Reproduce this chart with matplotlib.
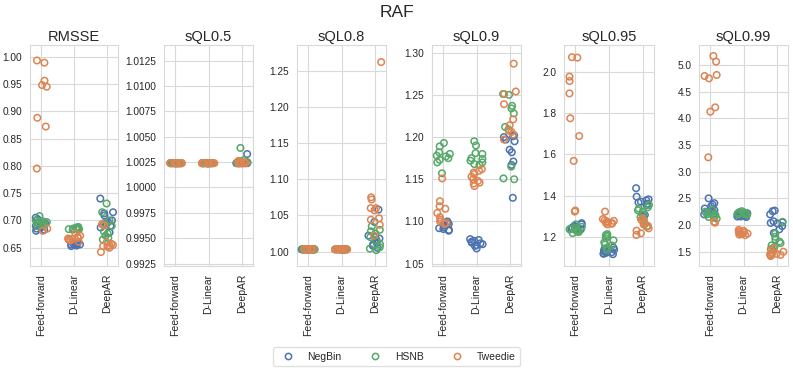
import numpy as np
import matplotlib
matplotlib.use("Agg")
import matplotlib.pyplot as plt
import seaborn as sns
from matplotlib.lines import Line2D
from matplotlib.ticker import MultipleLocator, FormatStrFormatter

sns.set_style("whitegrid")
plt.rcParams['font.family'] = ['Liberation Sans', 'DejaVu Sans']

models = ["Feed-forward", "D-Linear", "DeepAR"]
series = ["NegBin", "HSNB", "Tweedie"]
metrics = ["RMSSE", "sQL0.5", "sQL0.8", "sQL0.9", "sQL0.95", "sQL0.99"]

# values per metric and series: one list per model (Feed-forward, D-Linear, DeepAR)
rmsse_negbin = [[0.705, 0.702, 0.695, 0.692, 0.690, 0.688, 0.687, 0.685, 0.683, 0.681],
                [0.660, 0.659, 0.658, 0.657, 0.657, 0.656, 0.656, 0.655, 0.654, 0.653],
                [0.740, 0.715, 0.713, 0.709, 0.700, 0.697, 0.694, 0.690, 0.687, 0.678]]
rmsse_hsnb = [[0.708, 0.700, 0.698, 0.697, 0.696, 0.695, 0.694, 0.693, 0.692, 0.690],
              [0.688, 0.687, 0.686, 0.686, 0.685, 0.685, 0.684, 0.684, 0.683, 0.683],
              [0.731, 0.715, 0.700, 0.695, 0.690, 0.680, 0.676, 0.672, 0.668, 0.665]]
rmsse_tweedie = [[0.993, 0.989, 0.956, 0.948, 0.945, 0.888, 0.872, 0.795, 0.685, 0.681],
                 [0.676, 0.672, 0.670, 0.668, 0.667, 0.666, 0.665, 0.664, 0.663, 0.661],
                 [0.693, 0.691, 0.660, 0.657, 0.655, 0.654, 0.653, 0.652, 0.650, 0.642]]

sql05_negbin = [[1.0024] * 10,
                [1.0024] * 10,
                [1.0033, 1.0025, 1.0025, 1.0024, 1.0024, 1.0024, 1.0024, 1.0024, 1.0024, 1.0024]]
sql05_hsnb = [[1.0024] * 10,
              [1.0024] * 10,
              [1.0039, 1.0027, 1.0026, 1.0025, 1.0025, 1.0024, 1.0024, 1.0024, 1.0024, 1.0024]]
sql05_tweedie = [[1.0024] * 10,
                 [1.0024] * 10,
                 [1.0026, 1.0025, 1.0025, 1.0024, 1.0024, 1.0024, 1.0024, 1.0024, 1.0024, 1.0024]]

sql08_negbin = [[1.003] * 10,
                [1.003] * 10,
                [1.058, 1.041, 1.022, 1.020, 1.018, 1.016, 1.012, 1.010, 1.008, 1.005]]
sql08_hsnb = [[1.003] * 10,
              [1.003] * 10,
              [1.035, 1.030, 1.028, 1.025, 1.020, 1.015, 1.010, 1.006, 1.004, 1.002]]
sql08_tweedie = [[1.003] * 10,
                 [1.003] * 10,
                 [1.262, 1.075, 1.072, 1.060, 1.060, 1.057, 1.046, 1.044, 1.037, 1.022]]

sql09_negbin = [[1.100, 1.098, 1.097, 1.096, 1.095, 1.093, 1.092, 1.091, 1.090, 1.089],
                [1.079, 1.078, 1.077, 1.076, 1.075, 1.074, 1.073, 1.072, 1.071, 1.068],
                [1.202, 1.201, 1.200, 1.197, 1.195, 1.185, 1.182, 1.171, 1.167, 1.128]]
sql09_hsnb = [[1.193, 1.189, 1.182, 1.180, 1.178, 1.177, 1.175, 1.173, 1.170, 1.157],
              [1.195, 1.190, 1.181, 1.180, 1.175, 1.174, 1.172, 1.170, 1.168, 1.167],
              [1.251, 1.250, 1.237, 1.234, 1.228, 1.212, 1.209, 1.165, 1.151, 1.150]]
sql09_tweedie = [[1.151, 1.124, 1.118, 1.115, 1.110, 1.105, 1.102, 1.100, 1.098, 1.097],
                 [1.162, 1.160, 1.158, 1.156, 1.153, 1.150, 1.148, 1.146, 1.145, 1.142],
                 [1.287, 1.254, 1.251, 1.239, 1.221, 1.214, 1.208, 1.206, 1.203, 1.197]]

sql095_negbin = [[1.268, 1.262, 1.255, 1.250, 1.247, 1.245, 1.242, 1.240, 1.238, 1.236],
                 [1.150, 1.145, 1.140, 1.135, 1.130, 1.128, 1.125, 1.122, 1.120, 1.118],
                 [1.437, 1.396, 1.383, 1.378, 1.372, 1.368, 1.362, 1.356, 1.308, 1.300]]
sql095_hsnb = [[1.262, 1.250, 1.245, 1.240, 1.238, 1.235, 1.232, 1.228, 1.225, 1.220],
               [1.215, 1.210, 1.205, 1.195, 1.185, 1.175, 1.165, 1.160, 1.150, 1.140],
               [1.356, 1.345, 1.338, 1.330, 1.322, 1.310, 1.297, 1.284, 1.264, 1.251]]
sql095_tweedie = [[2.070, 2.068, 1.976, 1.955, 1.895, 1.775, 1.689, 1.569, 1.329, 1.324],
                  [1.324, 1.288, 1.282, 1.279, 1.276, 1.272, 1.270, 1.268, 1.265, 1.262],
                  [1.290, 1.284, 1.276, 1.268, 1.262, 1.255, 1.243, 1.232, 1.219, 1.211]]

sql099_negbin = [[2.50, 2.41, 2.38, 2.35, 2.31, 2.28, 2.26, 2.25, 2.22, 2.20],
                 [2.24, 2.22, 2.20, 2.19, 2.18, 2.18, 2.17, 2.16, 2.16, 2.15],
                 [2.27, 2.26, 2.20, 2.07, 2.05, 2.04, 2.03, 1.98, 1.92, 1.85]]
sql099_hsnb = [[2.28, 2.25, 2.22, 2.20, 2.19, 2.18, 2.16, 2.15, 2.14, 2.12],
               [2.26, 2.24, 2.23, 2.22, 2.22, 2.21, 2.21, 2.20, 2.20, 2.19],
               [2.06, 1.84, 1.78, 1.73, 1.69, 1.66, 1.62, 1.59, 1.55, 1.52]]
sql099_tweedie = [[5.169, 5.063, 4.813, 4.794, 4.750, 4.206, 4.125, 3.269, 2.063, 2.044],
                  [1.91, 1.89, 1.88, 1.87, 1.86, 1.85, 1.84, 1.83, 1.82, 1.81],
                  [1.56, 1.53, 1.50, 1.48, 1.47, 1.46, 1.45, 1.44, 1.43, 1.42]]

metric_data = {
    "RMSSE": [rmsse_negbin, rmsse_hsnb, rmsse_tweedie],
    "sQL0.5": [sql05_negbin, sql05_hsnb, sql05_tweedie],
    "sQL0.8": [sql08_negbin, sql08_hsnb, sql08_tweedie],
    "sQL0.9": [sql09_negbin, sql09_hsnb, sql09_tweedie],
    "sQL0.95": [sql095_negbin, sql095_hsnb, sql095_tweedie],
    "sQL0.99": [sql099_negbin, sql099_hsnb, sql099_tweedie],
}

# axis styling
ylims = {"RMSSE": (0.6165, 1.0214), "sQL0.5": (0.99226, 1.01405), "sQL0.8": (0.980, 1.2856),
         "sQL0.9": (1.0472, 1.3091), "sQL0.95": (1.061, 2.129), "sQL0.99": (1.232, 5.375)}
ysteps = {"RMSSE": 0.05, "sQL0.5": 0.0025, "sQL0.8": 0.05, "sQL0.9": 0.05, "sQL0.95": 0.2, "sQL0.99": 0.5}
yfmts = {"RMSSE": "%.2f", "sQL0.5": "%.4f", "sQL0.8": "%.2f", "sQL0.9": "%.2f", "sQL0.95": "%.1f", "sQL0.99": "%.1f"}

colors = ["#4C72B0", "#55A868", "#DD8452"]

W, H = 793, 371
fig = plt.figure(figsize=(W / 100, H / 100), dpi=100)
lefts = [30, 164, 297, 432, 564, 699]
widths = [88, 89, 89, 89, 90, 89]
top, bottom = 45, 266

rng = np.random.default_rng(3)
for i, m in enumerate(metrics):
    ax = fig.add_axes([lefts[i] / W, 1 - bottom / H, widths[i] / W, (bottom - top) / H])
    for s_idx, sname in enumerate(series):
        vals = metric_data[m][s_idx]
        for k in range(len(models)):
            v = np.asarray(vals[k])
            xs = k + rng.uniform(-0.2, 0.2, size=len(v))
            ax.scatter(xs, v, s=22, facecolors="none", edgecolors=colors[s_idx],
                       linewidths=1.1, zorder=3)
    ax.set_xlim(-0.34, 2.34)
    ax.set_ylim(*ylims[m])
    ax.set_xticks(range(len(models)))
    ax.set_xticklabels(models, rotation=90, fontsize=7.5)
    ax.yaxis.set_major_locator(MultipleLocator(ysteps[m]))
    ax.yaxis.set_major_formatter(FormatStrFormatter(yfmts[m]))
    ax.tick_params(axis="y", labelsize=7.3, pad=2)
    ax.tick_params(axis="x", pad=2)
    ax.set_title(m, fontsize=10.5, pad=3)
    ax.grid(True, color=".85", linewidth=0.8)
    for sp in ax.spines.values():
        sp.set_color(".85")

fig.text(0.5, 0.965, "RAF", ha="center", va="center", fontsize=12.5)

handles = [Line2D([0], [0], marker="o", linestyle="none", markerfacecolor="none",
                  markeredgecolor=c, markeredgewidth=1.1, markersize=4.5) for c in colors]
leg = fig.legend(handles, series, loc="lower center", bbox_to_anchor=(0.5, 0.0),
                 ncol=3, fontsize=7.5, frameon=True, columnspacing=2.2,
                 handletextpad=0.9, borderpad=0.4)
leg.get_frame().set_edgecolor(".85")

fig.savefig("out.png", dpi=100)
